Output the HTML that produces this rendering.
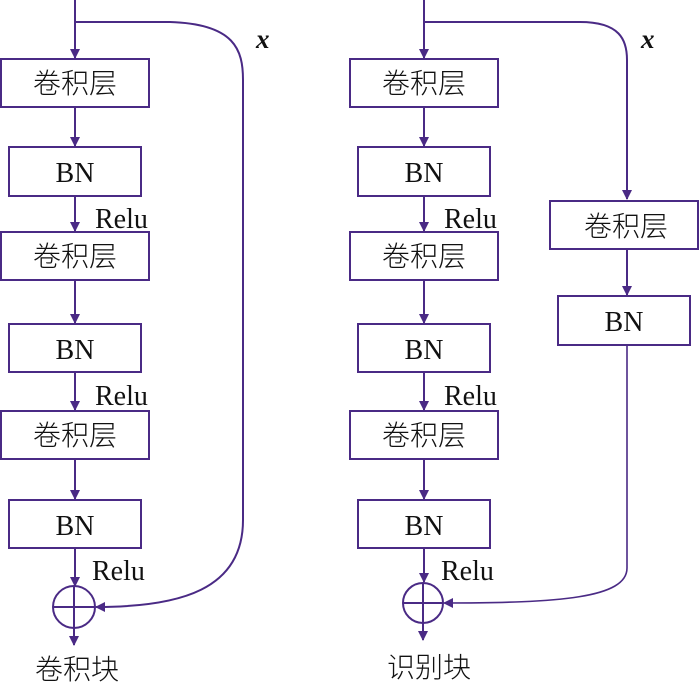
<!DOCTYPE html>
<html><head><meta charset="utf-8"><style>
html,body{margin:0;padding:0;background:#fff;}
svg{display:block;}
text{font-family:"Liberation Serif","Noto Serif CJK SC",serif;fill:#111;}
.c{font-family:"Liberation Serif","Noto Sans CJK SC",sans-serif;font-weight:300;}
</style></head><body>
<svg width="700" height="683" viewBox="0 0 700 683" xmlns="http://www.w3.org/2000/svg">
<defs>
<marker id="a" markerWidth="10" markerHeight="10" refX="9" refY="5" orient="auto" markerUnits="userSpaceOnUse">
<path d="M0,0 L10,5 L0,10 Z" fill="#4a2a85"/></marker>
</defs>
<g stroke="#4a2a85" stroke-width="2" fill="none">
<line x1="75" y1="0" x2="75" y2="58" marker-end="url(#a)"/>
<rect x="1" y="59" width="148" height="48"/>
<line x1="75" y1="107" x2="75" y2="146" marker-end="url(#a)"/>
<rect x="9" y="147" width="132" height="49"/>
<line x1="75" y1="196" x2="75" y2="231" marker-end="url(#a)"/>
<rect x="1" y="232" width="148" height="48"/>
<line x1="75" y1="280" x2="75" y2="323" marker-end="url(#a)"/>
<rect x="9" y="324" width="132" height="48"/>
<line x1="75" y1="372" x2="75" y2="410" marker-end="url(#a)"/>
<rect x="1" y="411" width="148" height="48"/>
<line x1="75" y1="459" x2="75" y2="499" marker-end="url(#a)"/>
<rect x="9" y="500" width="132" height="48"/>
<line x1="75" y1="548" x2="75" y2="586" marker-end="url(#a)"/>
<circle cx="74" cy="607" r="21"/>
<line x1="53" y1="607" x2="95" y2="607"/>
<line x1="74" y1="586" x2="74" y2="645" marker-end="url(#a)"/>
<path d="M75,22 L170,22 C235,24 243,50 243,80 L243,520 C243,590 180,607 96,607" marker-end="url(#a)"/>
<line x1="424" y1="0" x2="424" y2="58" marker-end="url(#a)"/>
<rect x="350" y="59" width="148" height="48"/>
<line x1="424" y1="107" x2="424" y2="146" marker-end="url(#a)"/>
<rect x="358" y="147" width="132" height="49"/>
<line x1="424" y1="196" x2="424" y2="231" marker-end="url(#a)"/>
<rect x="350" y="232" width="148" height="48"/>
<line x1="424" y1="280" x2="424" y2="323" marker-end="url(#a)"/>
<rect x="358" y="324" width="132" height="48"/>
<line x1="424" y1="372" x2="424" y2="410" marker-end="url(#a)"/>
<rect x="350" y="411" width="148" height="48"/>
<line x1="424" y1="459" x2="424" y2="499" marker-end="url(#a)"/>
<rect x="358" y="500" width="132" height="48"/>
<line x1="424" y1="548" x2="424" y2="582" marker-end="url(#a)"/>
<circle cx="423" cy="603" r="20"/>
<line x1="403" y1="603" x2="443" y2="603"/>
<line x1="423" y1="583" x2="423" y2="640" marker-end="url(#a)"/>
<path d="M424,22 L580,22 C620,22 627,40 627,60 L627,199" marker-end="url(#a)"/>
<rect x="550" y="201" width="148" height="48"/>
<line x1="627" y1="249" x2="627" y2="295" marker-end="url(#a)"/>
<rect x="558" y="296" width="132" height="49"/>
<path d="M627,345 L627,568 C627,598 560,603 444,603" stroke-width="1.6" marker-end="url(#a)"/>
</g>
<g font-size="28" text-anchor="middle">
<text class="c" x="75" y="93">卷积层</text>
<text x="75" y="182">BN</text>
<text class="c" x="75" y="266">卷积层</text>
<text x="75" y="359">BN</text>
<text class="c" x="75" y="445">卷积层</text>
<text x="75" y="535">BN</text>
<text class="c" x="424" y="93">卷积层</text>
<text x="424" y="182">BN</text>
<text class="c" x="424" y="266">卷积层</text>
<text x="424" y="359">BN</text>
<text class="c" x="424" y="445">卷积层</text>
<text x="424" y="535">BN</text>
<text class="c" x="626" y="236">卷积层</text>
<text x="624" y="331">BN</text>
<text class="c" x="77" y="679">卷积块</text>
<text class="c" x="429" y="677">识别块</text>
</g>
<g font-size="28">
<text x="95" y="228">Relu</text>
<text x="95" y="405">Relu</text>
<text x="92" y="580">Relu</text>
<text x="444" y="228">Relu</text>
<text x="444" y="405">Relu</text>
<text x="441" y="580">Relu</text>
<text x="256" y="48" font-style="italic" font-weight="bold" font-size="27">x</text>
<text x="641" y="48" font-style="italic" font-weight="bold" font-size="27">x</text>
</g>
</svg>
</body></html>
